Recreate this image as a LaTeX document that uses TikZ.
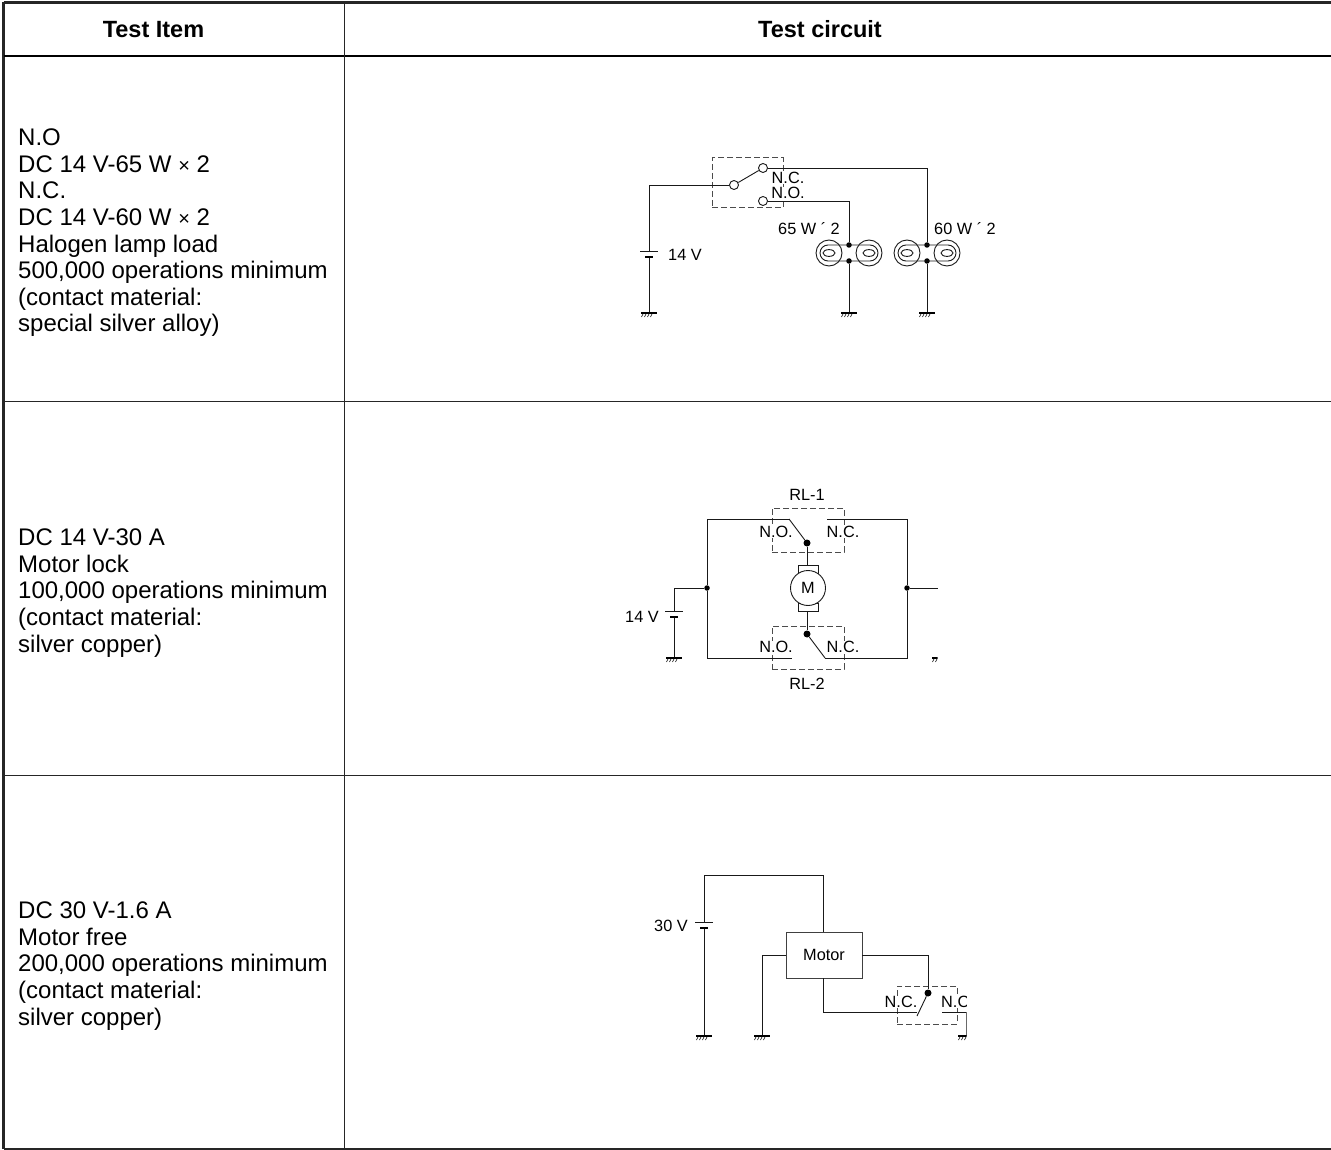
\documentclass[tikz,border=0pt]{standalone}
\usepackage{fontspec}
\setmainfont{Liberation Sans}
\newcommand{\timessign}{{\fontsize{20}{20}\selectfont ×}}
\tikzset{
  rule/.style={draw=black!85,line width=#1},
  celltext/.style={anchor=west,align=left,inner sep=0pt,font=\fontsize{24}{26.6}\selectfont,text=black},
  headtext/.style={anchor=base,inner sep=0pt,font=\fontsize{23.5}{26}\selectfont\bfseries},
  lbl/.style={fill=white,inner sep=0pt,font=\fontsize{16.3}{18}\selectfont,text=black},
  wire/.style={draw=black!90,line width=.9pt},
  dashbox/.style={draw=black!70,line width=1pt,dash pattern=on 6pt off 3pt,inner sep=0pt},
  dot/.style={circle,fill=black,inner sep=0pt,minimum size=#1},
  contact/.style={circle,draw=black!90,fill=white,line width=.9pt,inner sep=0pt,minimum size=9pt},
  motorbox/.style={draw=black!75,line width=.9pt,inner sep=0pt,minimum width=76pt,minimum height=46pt,font=\fontsize{16.3}{18}\selectfont},
  gnd/.pic={
    \draw[black,line width=1.6pt] (-8,0) -- (8,0);
    \draw[black,line width=.6pt] (-6,1) -- (-7.5,4) (-3,1) -- (-4.5,4) (0,1) -- (-1.5,4) (3,1) -- (1.5,4);
  },
  batt/.pic={
    \draw[wire] (-9,0) -- (9,0);
    \draw[black,line width=2.4pt] (-4,6) -- (4,6);
  },
  lamp/.pic={
    \draw[line width=.9pt,draw=black!90] (0,0) circle (13);
    \draw[line width=.9pt,draw=black!90] (0,0) ellipse (6 and 3.4);
  }
}
\begin{document}
\begin{tikzpicture}[x=1pt,y=-1pt]
    \useasboundingbox (0,0) rectangle (1331,1150);

    \coordinate (tl) at (3.5,2.5);
    \coordinate (tr) at (1331,2.5);
    \coordinate (hl) at (3.5,56);
    \coordinate (hr) at (1331,56);
    \coordinate (bl) at (3.5,1148.5);
    \coordinate (br) at (1331,1148.5);
    \coordinate (ct) at (344.5,2.5);
    \coordinate (cb) at (344.5,1148.5);
    \coordinate (r1l) at (3.5,401);
    \coordinate (r1r) at (1331,401);
    \coordinate (r2l) at (3.5,775);
    \coordinate (r2r) at (1331,775);
    \draw[rule=2.6pt] (tl) -- (tr);
    \draw[rule=3pt] (tl) -- (bl);
    \draw[rule=2pt] (bl) -- (br);
    \draw[black,line width=2.6pt] (hl) -- (hr);
    \draw[rule=1pt] (ct) -- (cb);
    \draw[rule=1pt] (r1l) -- (r1r);
    \draw[rule=1pt] (r2l) -- (r2r);

    \node[headtext] (headitem) at (153.5,38) {Test Item};
    \node[headtext] (headcircuit) at (820,38) {Test circuit};
    \node[celltext] (item1) at (18,233) {N.O\\DC 14 V-65 W \timessign{} 2\\N.C.\\DC 14 V-60 W \timessign{} 2\\Halogen lamp load\\500,000 operations minimum\\(contact material:\\special silver alloy)};
    \node[celltext] (item2) at (18,593) {DC 14 V-30 A\\Motor lock\\100,000 operations minimum\\(contact material:\\silver copper)};
    \node[celltext] (item3) at (18,966) {DC 30 V-1.6 A\\Motor free\\200,000 operations minimum\\(contact material:\\silver copper)};

    \node[dashbox,minimum width=71pt,minimum height=50pt] (sw) at (747.5,183) {};
    \node[contact] (com) at (734,185) {};
    \node[contact] (nc) at (763,168) {};
    \node[contact] (no) at (763,201) {};
    \coordinate (batta) at (649,251);
    \coordinate (battb) at (649,257);
    \coordinate (gnda) at (649,313);
    \coordinate (gndb) at (849,313);
    \coordinate (gndc) at (927,313);
    \node[dot=5.5pt] (jb1) at (849,245) {};
    \node[dot=5.5pt] (jb2) at (849,261) {};
    \node[dot=5.5pt] (jc1) at (927,245) {};
    \node[dot=5.5pt] (jc2) at (927,261) {};
    \coordinate (la) at (829,253);
    \coordinate (lb) at (869,253);
    \coordinate (lc) at (907,253);
    \coordinate (ld) at (947,253);
    \coordinate (loopa1) at (820,245);
    \coordinate (loopa2) at (878,261);
    \coordinate (loopb1) at (898,245);
    \coordinate (loopb2) at (956,261);
    \draw[wire] (com) -| (batta);
    \draw[wire] (battb) -- (gnda);
    \draw[wire] (com) -- (nc);
    \draw[wire] (nc) -| (jc1);
    \draw[wire] (no) -| (jb1);
    \draw[wire] (jb2) -- (gndb);
    \draw[wire] (jc2) -- (gndc);
    \pic at (la) {lamp};
    \pic at (lb) {lamp};
    \pic at (lc) {lamp};
    \pic at (ld) {lamp};
    \draw[wire,rounded corners=8pt] (loopa1) rectangle (loopa2);
    \draw[wire,rounded corners=8pt] (loopb1) rectangle (loopb2);
    \pic at (batta) {batt};
    \pic at (gnda) {gnd};
    \pic at (gndb) {gnd};
    \pic at (gndc) {gnd};
    \node[lbl] (ncl) at (788,178) {N.C.};
    \node[lbl] (nol) at (788,193) {N.O.};
    \node[lbl] (wa) at (809,229) {65 W ´ 2};
    \node[lbl] (wb) at (965,229) {60 W ´ 2};
    \node[lbl] (va) at (685,255) {14 V};

    \node[lbl] (rl1) at (807,495) {RL-1};
    \node[lbl] (rl2) at (807,684) {RL-2};
    \node[dashbox,minimum width=72pt,minimum height=44pt] (sw1) at (808,530) {};
    \node[dashbox,minimum width=72pt,minimum height=43pt] (sw2) at (808,647.5) {};
    \node[lbl] (no1) at (776,532) {N.O.};
    \node[lbl] (nc1) at (843,532) {N.C.};
    \node[lbl] (no2) at (776,647) {N.O.};
    \node[lbl] (nc2) at (843,647) {N.C.};
    \node[dot=7pt] (pole1) at (807,543) {};
    \node[dot=7pt] (pole2) at (807,634) {};
    \node[dot=5.5pt] (jl) at (707,588) {};
    \node[dot=5.5pt] (jr) at (907,588) {};
    \coordinate (t1a) at (789,519);
    \coordinate (t1b) at (827,519);
    \coordinate (t2a) at (792,658);
    \coordinate (t2b) at (825,658);
    \coordinate (brushtop) at (807,565);
    \coordinate (brushbot) at (807,611);
    \node[draw=black!90,line width=.9pt,inner sep=0pt,minimum width=20pt,minimum height=8pt] (brush1) at (808,569) {};
    \node[draw=black!90,line width=.9pt,inner sep=0pt,minimum width=20pt,minimum height=8pt] (brush2) at (808,607) {};
    \node[circle,draw=black!90,fill=white,line width=.9pt,inner sep=0pt,minimum size=35pt,font=\fontsize{16.3}{18}\selectfont] (motor) at (808,588) {M};
    \coordinate (batb) at (674,611);
    \coordinate (batbb) at (674,617);
    \coordinate (gndd) at (674,658);
    \coordinate (gnde) at (940,658);
    \coordinate (outr) at (937.5,588);
    \draw[wire] (jl) |- (t1a);
    \draw[wire] (t1a) -- (pole1);
    \draw[wire] (t1b) -| (jr);
    \draw[wire] (jl) |- (t2a);
    \draw[wire] (pole2) -- (t2b);
    \draw[wire] (t2b) -| (jr);
    \draw[wire] (pole1) -- (brushtop);
    \draw[wire] (brushbot) -- (pole2);
    \draw[wire] (jl) -| (batb);
    \draw[wire] (batbb) -- (gndd);
    \draw[wire] (jr) -- (outr);
    \pic at (batb) {batt};
    \pic at (gndd) {gnd};
    \begin{scope}
      \clip (925,650) rectangle (937.5,670);
      \pic at (gnde) {gnd};
    \end{scope}
    \node[lbl] (vb) at (642,617) {14 V};

    \node[motorbox] (mbox) at (824,955) {Motor};
    \coordinate (batc) at (704,922);
    \coordinate (batcb) at (704,928);
    \coordinate (gndf) at (704,1036);
    \coordinate (gndg) at (762,1036);
    \coordinate (gndh) at (966,1036);
    \coordinate (topr) at (823,875);
    \coordinate (boxt) at (823,932);
    \coordinate (boxb) at (823,978);
    \coordinate (boxl) at (786,955);
    \coordinate (boxr) at (862,955);
    \coordinate (c3a) at (917,1012);
    \coordinate (c3b) at (917,1016);
    \coordinate (c3c) at (942,1012);
    \coordinate (c3d) at (966,1012);
    \node[dashbox,minimum width=60pt,minimum height=38pt] (sw3) at (927,1005) {};
    \node[dot=7pt] (pole3) at (928,993) {};
    \draw[wire] (batc) |- (topr);
    \draw[wire] (topr) -- (boxt);
    \draw[wire] (batcb) -- (gndf);
    \draw[wire] (boxl) -| (gndg);
    \draw[wire] (boxr) -| (pole3);
    \draw[wire] (boxb) |- (c3a);
    \draw[wire] (pole3) -- (c3b);
    \pic at (batc) {batt};
    \pic at (gndf) {gnd};
    \pic at (gndg) {gnd};
    \node[lbl] (nc3) at (901,1002) {N.C.};
    \begin{scope}
      \clip (935,980) rectangle (966.5,1050);
      \node[lbl,anchor=west] (nc4) at (941,1002) {N.C.};
      \draw[wire] (c3c) -- (c3d);
      \draw[wire] (c3d) -- (gndh);
      \pic at (gndh) {gnd};
    \end{scope}
    \node[lbl] (vc) at (671,926) {30 V};
\end{tikzpicture}
\end{document}
